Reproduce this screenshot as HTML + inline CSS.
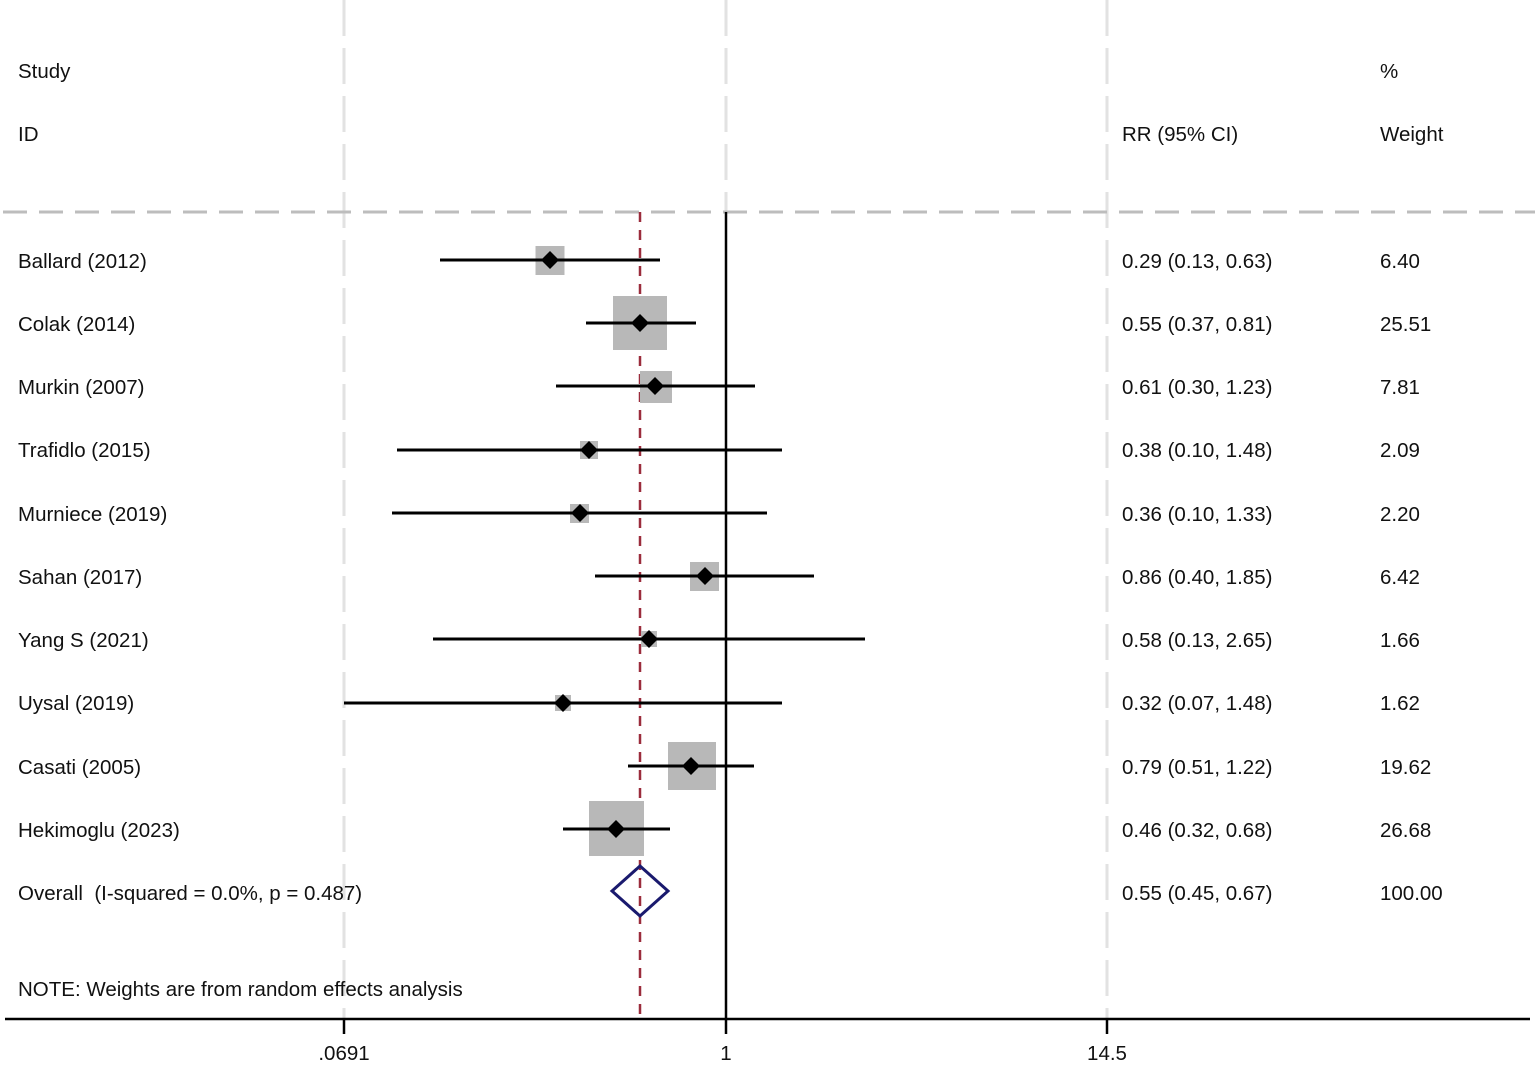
<!DOCTYPE html>
<html><head><meta charset="utf-8"><style>
html,body{margin:0;padding:0;background:#fff;}
svg{display:block;}
text{font-family:"Liberation Sans",Arial,sans-serif;font-size:20.5px;fill:#111;}
</style></head><body>
<svg width="1535" height="1066" viewBox="0 0 1535 1066" xmlns="http://www.w3.org/2000/svg">
<g stroke="#e2e2e2" stroke-width="3" stroke-dasharray="36 12">
<line x1="344" y1="0" x2="344" y2="1019"/>
<line x1="726" y1="0" x2="726" y2="212"/>
<line x1="1107" y1="0" x2="1107" y2="1019"/>
</g>
<line x1="3" y1="212" x2="1535" y2="212" stroke="#bdbdbd" stroke-width="3" stroke-dasharray="24 12"/>
<line x1="726" y1="212" x2="726" y2="1019" stroke="#000" stroke-width="2.5"/>
<line x1="640" y1="212" x2="640" y2="1019" stroke="#9b2c3c" stroke-width="2.5" stroke-dasharray="10 8"/>
<g fill="#b8b8b8">
<rect x="535.5" y="246" width="29" height="29"/>
<rect x="613" y="296" width="54" height="54"/>
<rect x="640" y="371" width="32" height="32"/>
<rect x="580" y="441" width="18" height="18"/>
<rect x="570" y="504" width="19" height="19"/>
<rect x="690" y="562" width="29" height="29"/>
<rect x="641" y="631" width="16" height="16"/>
<rect x="555" y="695" width="16" height="16"/>
<rect x="668" y="742" width="48" height="48"/>
<rect x="589" y="801" width="55" height="55"/>
</g>
<g stroke="#000" stroke-width="3">
<line x1="440" y1="260" x2="660" y2="260"/>
<line x1="586" y1="323" x2="696" y2="323"/>
<line x1="556" y1="386" x2="755" y2="386"/>
<line x1="397" y1="450" x2="782" y2="450"/>
<line x1="392" y1="513" x2="767" y2="513"/>
<line x1="595" y1="576" x2="814" y2="576"/>
<line x1="433" y1="639" x2="865" y2="639"/>
<line x1="344" y1="703" x2="782" y2="703"/>
<line x1="628" y1="766" x2="754" y2="766"/>
<line x1="563" y1="829" x2="670" y2="829"/>
</g>
<g fill="#000">
<path d="M550 251 l9 9 l-9 9 l-9 -9z"/>
<path d="M640 314 l9 9 l-9 9 l-9 -9z"/>
<path d="M655 377 l9 9 l-9 9 l-9 -9z"/>
<path d="M589 441 l9 9 l-9 9 l-9 -9z"/>
<path d="M580 504 l9 9 l-9 9 l-9 -9z"/>
<path d="M705 567 l9 9 l-9 9 l-9 -9z"/>
<path d="M649 630 l9 9 l-9 9 l-9 -9z"/>
<path d="M563 694 l9 9 l-9 9 l-9 -9z"/>
<path d="M691 757 l9 9 l-9 9 l-9 -9z"/>
<path d="M616 820 l9 9 l-9 9 l-9 -9z"/>
</g>
<path d="M640 866 L668 891 L640 916 L612 891 Z" fill="none" stroke="#1a1a6e" stroke-width="3"/>
<line x1="5" y1="1019" x2="1530" y2="1019" stroke="#000" stroke-width="2.5"/>
<g stroke="#000" stroke-width="2.5">
<line x1="344" y1="1019" x2="344" y2="1034"/>
<line x1="726" y1="1019" x2="726" y2="1034"/>
<line x1="1107" y1="1019" x2="1107" y2="1034"/>
</g>
<g text-anchor="middle">
<text x="344" y="1060">.0691</text>
<text x="726" y="1060">1</text>
<text x="1107" y="1060">14.5</text>
</g>
<text x="18" y="78">Study</text>
<text x="18" y="141">ID</text>
<text x="1380" y="78">%</text>
<text x="1122" y="141">RR (95% CI)</text>
<text x="1380" y="141">Weight</text>
<text x="18" y="268">Ballard (2012)</text><text x="1122" y="268">0.29 (0.13, 0.63)</text><text x="1380" y="268">6.40</text>
<text x="18" y="331">Colak (2014)</text><text x="1122" y="331">0.55 (0.37, 0.81)</text><text x="1380" y="331">25.51</text>
<text x="18" y="394">Murkin (2007)</text><text x="1122" y="394">0.61 (0.30, 1.23)</text><text x="1380" y="394">7.81</text>
<text x="18" y="457">Trafidlo (2015)</text><text x="1122" y="457">0.38 (0.10, 1.48)</text><text x="1380" y="457">2.09</text>
<text x="18" y="521">Murniece (2019)</text><text x="1122" y="521">0.36 (0.10, 1.33)</text><text x="1380" y="521">2.20</text>
<text x="18" y="584">Sahan (2017)</text><text x="1122" y="584">0.86 (0.40, 1.85)</text><text x="1380" y="584">6.42</text>
<text x="18" y="647">Yang S (2021)</text><text x="1122" y="647">0.58 (0.13, 2.65)</text><text x="1380" y="647">1.66</text>
<text x="18" y="710">Uysal (2019)</text><text x="1122" y="710">0.32 (0.07, 1.48)</text><text x="1380" y="710">1.62</text>
<text x="18" y="774">Casati (2005)</text><text x="1122" y="774">0.79 (0.51, 1.22)</text><text x="1380" y="774">19.62</text>
<text x="18" y="837">Hekimoglu (2023)</text><text x="1122" y="837">0.46 (0.32, 0.68)</text><text x="1380" y="837">26.68</text>
<text x="18" y="900" xml:space="preserve">Overall  (I-squared = 0.0%, p = 0.487)</text><text x="1122" y="900">0.55 (0.45, 0.67)</text><text x="1380" y="900">100.00</text>
<text x="18" y="996">NOTE: Weights are from random effects analysis</text>
</svg>
</body></html>
